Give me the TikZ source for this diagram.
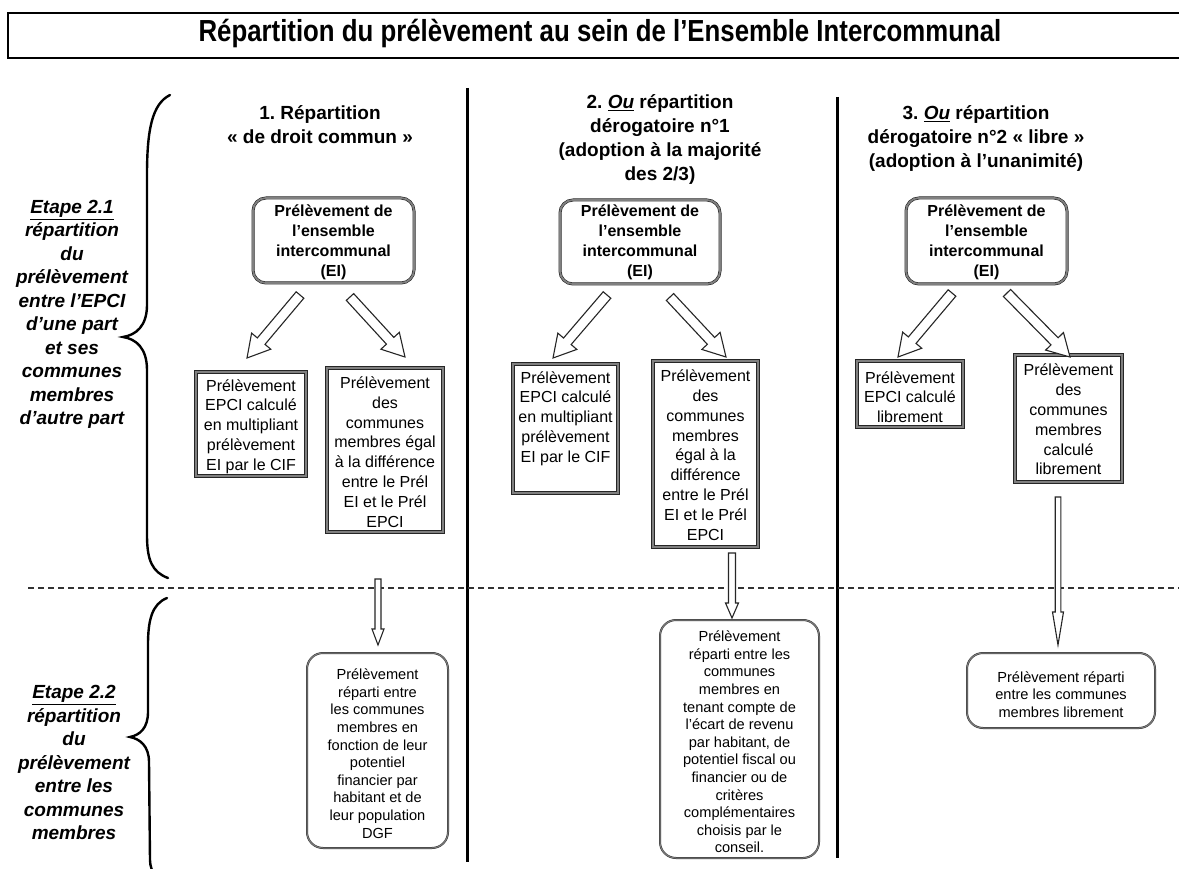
\documentclass[tikz,border=0pt]{standalone}
\usepackage{fontspec}
\setmainfont{Liberation Sans}
\usetikzlibrary{calc}
\frenchspacing
\newcommand\ftitle{\fontsize{25.8}{30}\selectfont\bfseries}
\newcommand\fhead{\fontsize{19}{24}\selectfont\bfseries}
\newcommand\fetape{\fontsize{19}{23.5}\selectfont\bfseries\itshape}
\newcommand\feibox{\fontsize{16}{20}\selectfont\bfseries}
\newcommand\fmidbox{\fontsize{16}{19.8}\selectfont}
\newcommand\fbotbox{\fontsize{14.6}{17.6}\selectfont}
\newcommand\blkarrow[5]{%
  \path let \p1=($(#2)-(#1)$), \n1={atan2(\y1,\x1)}, \n2={veclen(\x1,\y1)} in
    \pgfextra{\xdef\baang{\n1}\xdef\balen{\n2}};
  \draw[blk, shift={(#1)}, rotate=\baang]
    (0pt,#3) -- ({\balen-#5},#3) -- ({\balen-#5},#4) -- (\balen,0pt)
    -- ({\balen-#5},-#4) -- ({\balen-#5},-#3) -- (0pt,-#3) -- cycle;
}
\begin{document}
\begin{tikzpicture}[x=1pt,y=-1pt,
  hd/.style={align=center,font=\fhead,inner sep=0pt},
  et/.style={align=center,font=\fetape,inner sep=0pt},
  txt/.style={align=center,inner sep=0pt},
  eibox/.style={draw=black!85,line width=0.6pt,double=black!50,double distance=1.8pt,rounded corners=13pt,inner sep=0pt},
  sqbox/.style={draw=black!85,line width=0.6pt,double=black!50,double distance=2pt,inner sep=0pt},
  botbox/.style={draw=black!80,line width=0.5pt,double=black!50,double distance=1pt,rounded corners=16pt,inner sep=0pt},
  blk/.style={draw=black!85,line width=1.1pt,fill=white,line join=miter},
  bracestyle/.style={line width=2.4pt,line cap=round},
  divider/.style={line width=3pt}]
\useasboundingbox (0,0) rectangle (1179,869);
\clip (0,0) rectangle (1179,869);
\fill[white] (0,0) rectangle (1179,869);

% title
\node[draw,line width=1.4pt,minimum width=1182pt,minimum height=45pt,inner sep=0pt] (titlebox) at (599,35.5) {};
\node[txt,font=\ftitle,anchor=base] (title) at (600,42) {\scalebox{1}[1.18]{Répartition du prélèvement au sein de l’Ensemble Intercommunal}};

% dividers
\coordinate (d1t) at (467,88); \coordinate (d1b) at (467,862);
\coordinate (d2t) at (837,97); \coordinate (d2b) at (837,858);
\draw[divider] (d1t) -- (d1b);
\draw[divider] (d2t) -- (d2b);
\coordinate (dl) at (28,588); \coordinate (dr) at (1179,588);
\draw[black!80,line width=1.2pt,dash pattern=on 6pt off 4pt] (dl) -- (dr);

% braces
\draw[bracestyle] (170,95) .. controls (152,104) and (147,130) .. (147,175)
  -- (147,305) .. controls (147,326) and (136,335) .. (123,337)
  .. controls (136,339) and (147,348) .. (147,370)
  -- (147,535) .. controls (147,560) and (152,572) .. (168,578);
\draw[bracestyle] (167,598) .. controls (152,604) and (148,620) .. (148,645)
  -- (148,712) .. controls (148,728) and (140,735) .. (130,737)
  .. controls (140,739) and (149,746) .. (149,762)
  -- (150,860) .. controls (150,872) and (158,882) .. (172,888);

% left labels
\node[et] (e1) at (72,314.5) {\underline{Etape 2.1}\\répartition\\du\\prélèvement\\entre l’EPCI\\d’une part\\et ses\\communes\\membres\\d’autre part};
\node[et] (e2) at (74,762.5) {\underline{Etape 2.2}\\répartition\\du\\prélèvement\\entre les\\communes\\membres};

% headers
\node[hd] (h1) at (320,125) {1. Répartition\\« de droit commun »};
\node[hd] (h2) at (660,139.5) {2. \underline{\textit{Ou}} répartition\\dérogatoire n°1\\(adoption à la majorité\\des 2/3)};
\node[hd] (h3) at (976,138.5) {3. \underline{\textit{Ou}} répartition\\dérogatoire n°2 « libre »\\(adoption à l’unanimité)};

% EI boxes
\node[eibox,minimum width=161pt,minimum height=85pt] (ei1) at (333.5,240.5) {};
\node[eibox,minimum width=160pt,minimum height=84pt] (ei2) at (640,242) {};
\node[eibox,minimum width=161pt,minimum height=86pt] (ei3) at (986.5,241) {};
\node[txt,font=\feibox] (ei1t) at (333.5,242.5) {Prélèvement de\\l’ensemble\\intercommunal\\(EI)};
\node[txt,font=\feibox] (ei2t) at (640,242.5) {Prélèvement de\\l’ensemble\\intercommunal\\(EI)};
\node[txt,font=\feibox] (ei3t) at (986.5,242.5) {Prélèvement de\\l’ensemble\\intercommunal\\(EI)};

% middle boxes
\node[sqbox,minimum width=110pt,minimum height=104pt] (m1a) at (251,424) {};
\node[sqbox,minimum width=116pt,minimum height=164pt] (m1b) at (385,450) {};
\node[sqbox,minimum width=105pt,minimum height=129pt] (m2a) at (565.5,428.5) {};
\node[sqbox,minimum width=105pt,minimum height=186pt] (m2b) at (705.5,454) {};
\node[sqbox,minimum width=106pt,minimum height=66pt] (m3a) at (910,394) {};
\node[sqbox,minimum width=107pt,minimum height=127pt] (m3b) at (1068.5,418.5) {};
\node[txt,font=\fmidbox] (m1at) at (251,426.5) {Prélèvement\\EPCI calculé\\en multipliant\\prélèvement\\EI par le CIF};
\node[txt,font=\fmidbox] (m1bt) at (385,452) {Prélèvement\\des\\communes\\membres égal\\à la différence\\entre le Prél\\EI et le Prél\\EPCI};
\node[txt,font=\fmidbox] (m2at) at (565.5,418.5) {Prélèvement\\EPCI calculé\\en multipliant\\prélèvement\\EI par le CIF};
\node[txt,font=\fmidbox] (m2bt) at (705.5,455) {Prélèvement\\des\\communes\\membres\\égal à la\\différence\\entre le Prél\\EI et le Prél\\EPCI};
\node[txt,font=\fmidbox] (m3at) at (910,397) {Prélèvement\\EPCI calculé\\librement};
\node[txt,font=\fmidbox] (m3bt) at (1068.5,419.5) {Prélèvement\\des\\communes\\membres\\calculé\\librement};

% bottom boxes
\node[botbox,minimum width=141pt,minimum height=195pt] (b1) at (377.5,750.5) {};
\node[botbox,minimum width=159pt,minimum height=238pt] (b2) at (739.5,739) {};
\node[botbox,minimum width=188pt,minimum height=75pt] (b3) at (1061,690.5) {};
\node[txt,font=\fbotbox] (b1t) at (377.5,753.5) {Prélèvement\\réparti entre\\les communes\\membres en\\fonction de leur\\potentiel\\financier par\\habitant et de\\leur population\\DGF};
\node[txt,font=\fbotbox] (b2t) at (739.5,742) {Prélèvement\\réparti entre les\\communes\\membres en\\tenant compte de\\l’écart de revenu\\par habitant, de\\potentiel fiscal ou\\financier ou de\\critères\\complémentaires\\choisis par le\\conseil.};
\node[txt,font=\fbotbox] (b3t) at (1061,694.5) {Prélèvement réparti\\entre les communes\\membres librement};

% arrow end points
\coordinate (a1ls) at (300,295); \coordinate (a1lt) at (247,358);
\coordinate (a1rs) at (350,297); \coordinate (a1rt) at (405,357);
\coordinate (a2ls) at (607,295); \coordinate (a2lt) at (553,358);
\coordinate (a2rs) at (670,297); \coordinate (a2rt) at (726,357);
\coordinate (a3ls) at (952,293); \coordinate (a3lt) at (898,357);
\coordinate (a3rs) at (1007,293); \coordinate (a3rt) at (1070,357);
\coordinate (v1s) at (378,579); \coordinate (v1t) at (378,645);
\coordinate (v2s) at (732,553); \coordinate (v2t) at (732,618);
\coordinate (v3s) at (1058,497); \coordinate (v3t) at (1058,645);

\blkarrow{a1ls}{a1lt}{5pt}{12.5pt}{22pt}
\blkarrow{a1rs}{a1rt}{5pt}{12.5pt}{22pt}
\blkarrow{a2ls}{a2lt}{5pt}{12.5pt}{22pt}
\blkarrow{a2rs}{a2rt}{5pt}{12.5pt}{22pt}
\blkarrow{a3ls}{a3lt}{5pt}{12.5pt}{22pt}
\blkarrow{a3rs}{a3rt}{5pt}{12.5pt}{22pt}
\blkarrow{v1s}{v1t}{3pt}{6pt}{16pt}
\blkarrow{v2s}{v2t}{3.5pt}{6.5pt}{15pt}
\blkarrow{v3s}{v3t}{2.8pt}{5.5pt}{33pt}
\end{tikzpicture}
\end{document}
